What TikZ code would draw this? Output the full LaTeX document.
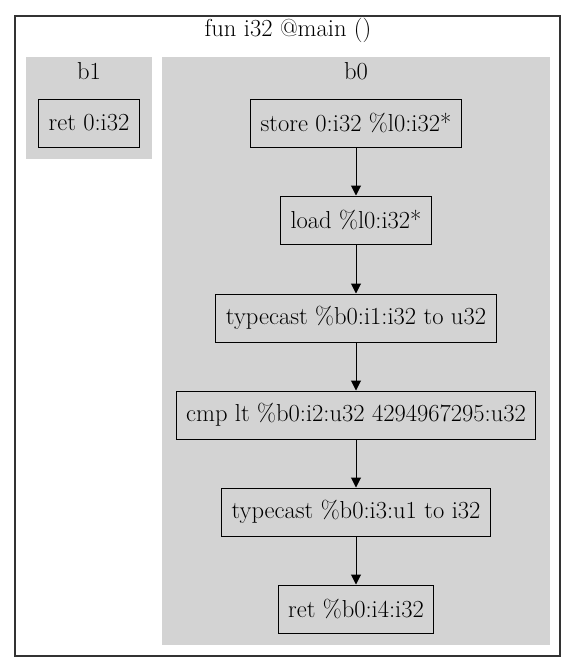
\documentclass[tikz,border=0pt]{standalone}
\usepackage{tikz}
\usetikzlibrary{arrows.meta,positioning}
\usepackage{xcolor}
\definecolor{ClusterGray}{RGB}{211,211,211}
\definecolor{FrameGray}{RGB}{51,51,51}

\begin{document}
\begin{tikzpicture}[x=0.75pt, y=-0.75pt,
  every node/.style={font=\fontsize{18.4}{21}\selectfont},
  instr/.style={draw=black, fill=ClusterGray, minimum height=36pt, inner xsep=7.5pt, line width=0.75pt},
  flow/.style={-{Triangle[length=7.5pt, width=7.5pt]}, line width=0.75pt}]
\useasboundingbox (0,0) rectangle (576,672);
% function frame
\draw[FrameGray, line width=0.9pt] (15,16) rectangle (560,656);
\node (title) at (288,30) {fun i32 @main ()};
% clusters
\fill[ClusterGray] (26,57) rectangle (152,159);
\fill[ClusterGray] (162,57) rectangle (550,645);
\node (b1) at (89,71) {b1};
\node (b0) at (356,71) {b0};
% block b1
\node[instr] (r1) at (89,123) {ret 0:i32};
% block b0
\node[instr] (st) at (356,123) {store 0:i32 \%l0:i32*};
\node[instr] (ld) at (356,220) {load \%l0:i32*};
\node[instr] (tc1) at (356,318) {typecast \%b0:i1:i32 to u32};
\node[instr] (cmp) at (356,415) {cmp lt \%b0:i2:u32 4294967295:u32};
\node[instr] (tc2) at (356,512) {typecast \%b0:i3:u1 to i32};
\node[instr] (ret) at (356,609) {ret \%b0:i4:i32};
\draw[flow] (st) -- (ld);
\draw[flow] (ld) -- (tc1);
\draw[flow] (tc1) -- (cmp);
\draw[flow] (cmp) -- (tc2);
\draw[flow] (tc2) -- (ret);
\end{tikzpicture}
\end{document}
